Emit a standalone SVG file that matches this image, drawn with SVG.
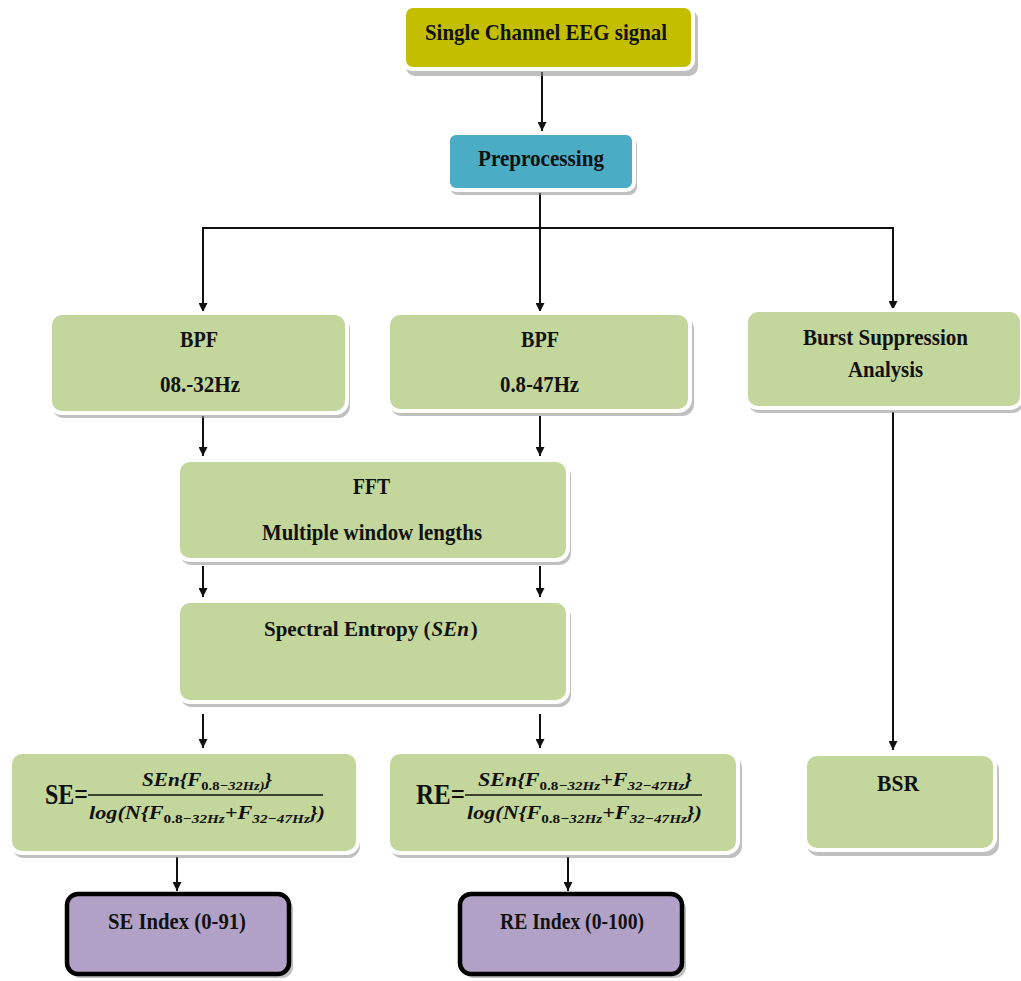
<svg xmlns="http://www.w3.org/2000/svg" width="1021" height="981" viewBox="0 0 1021 981">
<style>
.box{stroke:#ffffff;stroke-width:4}
.sh{fill:#8c8c8c;opacity:0.55}
.t{font-family:"Liberation Serif","DejaVu Serif",serif;font-weight:bold;font-size:24px;fill:#111;text-anchor:start}
.f{font-family:"Liberation Serif","DejaVu Serif",serif;font-style:italic;font-weight:bold;font-size:19px;fill:#111}
.big{font-family:"Liberation Serif","DejaVu Serif",serif;font-weight:bold;font-size:30px;fill:#111}
.sub{font-size:13px}
.up{font-style:normal}
.ln{stroke:#111;stroke-width:2;fill:none}
.idx{fill:#b2a1c7;stroke:#000;stroke-width:4.5}
</style>
<defs>
<marker id="ah" viewBox="0 0 10 10" refX="10" refY="5" markerWidth="9" markerHeight="9" markerUnits="userSpaceOnUse" orient="auto">
<path d="M0,0 L10,5 L0,10 z" fill="#111"/>
</marker>
</defs>
<rect width="1021" height="981" fill="#ffffff"/>
<g id="connectors">
<line class="ln" x1="542" y1="72" x2="542" y2="131" marker-end="url(#ah)"/>
<polyline class="ln" points="540,193 540,228"/>
<polyline class="ln" points="203,228 893,228"/>
<line class="ln" x1="203" y1="227" x2="203" y2="312" marker-end="url(#ah)"/>
<line class="ln" x1="540" y1="228" x2="540" y2="312" marker-end="url(#ah)"/>
<line class="ln" x1="893" y1="227" x2="893" y2="310" marker-end="url(#ah)"/>
<line class="ln" x1="203" y1="416" x2="203" y2="456" marker-end="url(#ah)"/>
<line class="ln" x1="540" y1="416" x2="540" y2="456" marker-end="url(#ah)"/>
<line class="ln" x1="203" y1="566" x2="203" y2="597" marker-end="url(#ah)"/>
<line class="ln" x1="540" y1="566" x2="540" y2="597" marker-end="url(#ah)"/>
<line class="ln" x1="203" y1="714" x2="203" y2="748" marker-end="url(#ah)"/>
<line class="ln" x1="540" y1="714" x2="540" y2="748" marker-end="url(#ah)"/>
<line class="ln" x1="893" y1="412" x2="893" y2="750" marker-end="url(#ah)"/>
<line class="ln" x1="177" y1="857" x2="177" y2="891" marker-end="url(#ah)"/>
<line class="ln" x1="568" y1="857" x2="568" y2="891" marker-end="url(#ah)"/>
</g>
<g id="eeg">
<rect class="sh" x="406" y="10" width="292" height="66" rx="9"/>
<rect class="box" x="404" y="6" width="289" height="63" rx="9" fill="#c4be00"/>
<text class="t" x="425" y="40" textLength="242" lengthAdjust="spacingAndGlyphs">Single Channel EEG signal</text>
</g>
<g id="preprocessing">
<rect class="sh" x="450" y="137" width="187" height="58" rx="8"/>
<rect class="box" x="448" y="133" width="186" height="57" rx="8" fill="#4bacc6"/>
<text class="t" x="478" y="166" textLength="126" lengthAdjust="spacingAndGlyphs">Preprocessing</text>
</g>
<g id="bpf1">
<rect class="sh" x="52" y="317" width="298" height="101" rx="12"/>
<rect class="box" x="50" y="313" width="297" height="100" rx="12" fill="#c3d69b"/>
<text class="t" x="180" y="347" textLength="38" lengthAdjust="spacingAndGlyphs">BPF</text>
<text class="t" x="160" y="392" textLength="80" lengthAdjust="spacingAndGlyphs">08.-32Hz</text>
</g>
<g id="bpf2">
<rect class="sh" x="390" y="317" width="304" height="99" rx="12"/>
<rect class="box" x="388" y="313" width="302" height="98" rx="12" fill="#c3d69b"/>
<text class="t" x="521" y="347" textLength="38" lengthAdjust="spacingAndGlyphs">BPF</text>
<text class="t" x="500" y="392" textLength="79" lengthAdjust="spacingAndGlyphs">0.8-47Hz</text>
</g>
<g id="burst">
<rect class="sh" x="748" y="314" width="276" height="99" rx="12"/>
<rect class="box" x="746" y="310" width="276" height="98" rx="12" fill="#c3d69b"/>
<text class="t" x="803" y="345" textLength="165" lengthAdjust="spacingAndGlyphs">Burst Suppression</text>
<text class="t" x="848" y="377" textLength="75" lengthAdjust="spacingAndGlyphs">Analysis</text>
</g>
<g id="fft">
<rect class="sh" x="180" y="464" width="391" height="101" rx="12"/>
<rect class="box" x="178" y="460" width="390" height="100" rx="12" fill="#c3d69b"/>
<text class="t" x="353" y="494" textLength="37" lengthAdjust="spacingAndGlyphs">FFT</text>
<text class="t" x="262" y="540" textLength="220" lengthAdjust="spacingAndGlyphs">Multiple window lengths</text>
</g>
<g id="spectral">
<rect class="sh" x="180" y="605" width="391" height="102" rx="12"/>
<rect class="box" x="178" y="601" width="390" height="101" rx="12" fill="#c3d69b"/>
<text class="t" x="264" y="636" style="font-size:21px">Spectral Entropy (<tspan font-style="italic" dx="1">SEn</tspan><tspan dx="2">)</tspan></text>
</g>
<g id="se">
<rect class="sh" x="12" y="756" width="348" height="102" rx="12"/>
<rect class="box" x="10" y="752" width="348" height="101" rx="12" fill="#c3d69b"/>
<text class="big" x="45" y="804" textLength="43" lengthAdjust="spacingAndGlyphs">SE=</text>
<line x1="88" y1="795" x2="323" y2="795" stroke="#111" stroke-width="1.5"/>
<text class="f" x="142" y="786" textLength="130" lengthAdjust="spacingAndGlyphs">SEn{F<tspan class="sub up" dy="4">0.8</tspan><tspan class="sub">−32Hz)</tspan><tspan dy="-4">}</tspan></text>
<text class="f" x="89" y="819" textLength="236" lengthAdjust="spacingAndGlyphs">log(N{F<tspan class="sub up" dy="4">0.8</tspan><tspan class="sub">−32Hz</tspan><tspan dy="-4">+F</tspan><tspan class="sub" dy="4">32−47Hz</tspan><tspan dy="-4">})</tspan></text>
</g>
<g id="re">
<rect class="sh" x="390" y="756" width="352" height="102" rx="12"/>
<rect class="box" x="388" y="752" width="350" height="101" rx="12" fill="#c3d69b"/>
<text class="big" x="416" y="804" textLength="49" lengthAdjust="spacingAndGlyphs">RE=</text>
<line x1="465" y1="795" x2="702" y2="795" stroke="#111" stroke-width="1.5"/>
<text class="f" x="478" y="786" textLength="214" lengthAdjust="spacingAndGlyphs">SEn{F<tspan class="sub up" dy="4">0.8</tspan><tspan class="sub">−32Hz</tspan><tspan dy="-4">+F</tspan><tspan class="sub" dy="4">32−47Hz</tspan><tspan dy="-4">}</tspan></text>
<text class="f" x="467" y="819" textLength="235" lengthAdjust="spacingAndGlyphs">log(N{F<tspan class="sub up" dy="4">0.8</tspan><tspan class="sub">−32Hz</tspan><tspan dy="-4">+F</tspan><tspan class="sub" dy="4">32−47Hz</tspan><tspan dy="-4">})</tspan></text>
</g>
<g id="bsr">
<rect class="sh" x="807" y="758" width="192" height="98" rx="12"/>
<rect class="box" x="805" y="754" width="190" height="96" rx="12" fill="#c3d69b"/>
<text class="t" x="877" y="791" textLength="42" lengthAdjust="spacingAndGlyphs">BSR</text>
</g>
<g id="se-index">
<rect class="sh" x="70" y="898" width="223" height="80" rx="11"/>
<rect class="idx" x="67" y="894" width="222" height="80" rx="11"/>
<text class="t" x="108" y="929" textLength="138" lengthAdjust="spacingAndGlyphs">SE Index (0-91)</text>
</g>
<g id="re-index">
<rect class="sh" x="463" y="898" width="223" height="80" rx="11"/>
<rect class="idx" x="460" y="894" width="222" height="80" rx="11"/>
<text class="t" x="500" y="929" textLength="144" lengthAdjust="spacingAndGlyphs">RE Index (0-100)</text>
</g>
</svg>
